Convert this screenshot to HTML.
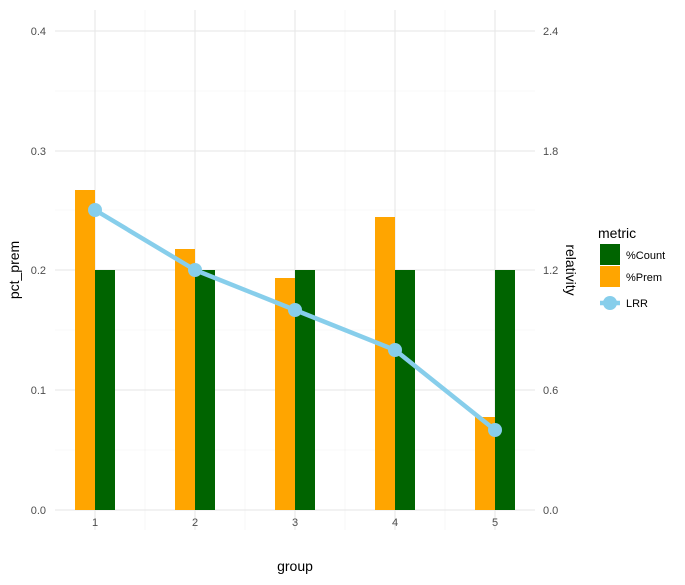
<!DOCTYPE html>
<html><head><meta charset="utf-8"><style>
body{margin:0;background:#fff;}
text{font-family:"Liberation Sans",sans-serif;}
</style></head><body>
<svg width="685" height="580" xmlns="http://www.w3.org/2000/svg">
<rect width="685" height="580" fill="#fff"/>
<g stroke="#f2f2f2" stroke-width="0.6">
<line x1="55" x2="535" y1="450" y2="450"/><line x1="55" x2="535" y1="330" y2="330"/>
<line x1="55" x2="535" y1="210" y2="210"/><line x1="55" x2="535" y1="91" y2="91"/>
<line x1="145" x2="145" y1="10" y2="530"/><line x1="245" x2="245" y1="10" y2="530"/>
<line x1="345" x2="345" y1="10" y2="530"/><line x1="445" x2="445" y1="10" y2="530"/>
</g>
<g stroke="#e6e6e6" stroke-width="1.1">
<line x1="55" x2="535" y1="510" y2="510"/><line x1="55" x2="535" y1="390" y2="390"/>
<line x1="55" x2="535" y1="270" y2="270"/><line x1="55" x2="535" y1="151" y2="151"/>
<line x1="55" x2="535" y1="31" y2="31"/>
<line x1="95" x2="95" y1="10" y2="530"/><line x1="195" x2="195" y1="10" y2="530"/>
<line x1="295" x2="295" y1="10" y2="530"/><line x1="395" x2="395" y1="10" y2="530"/>
<line x1="495" x2="495" y1="10" y2="530"/>
</g>
<g fill="#ffa500">
<rect x="75" y="190" width="20" height="320"/><rect x="175" y="249" width="20" height="261"/>
<rect x="275" y="278" width="20" height="232"/><rect x="375" y="217" width="20" height="293"/>
<rect x="475" y="417" width="20" height="93"/>
</g>
<g fill="#006400">
<rect x="95" y="270" width="20" height="240"/><rect x="195" y="270" width="20" height="240"/>
<rect x="295" y="270" width="20" height="240"/><rect x="395" y="270" width="20" height="240"/>
<rect x="495" y="270" width="20" height="240"/>
</g>
<polyline points="95,210 195,270 295,310 395,350 495,430" fill="none" stroke="#87ceeb" stroke-width="4.5" stroke-linejoin="round"/>
<g fill="#87ceeb">
<circle cx="95" cy="210" r="7"/><circle cx="195" cy="270" r="7"/><circle cx="295" cy="310" r="7"/>
<circle cx="395" cy="350" r="7"/><circle cx="495" cy="430" r="7"/>
</g>
<g font-size="11" fill="#4d4d4d" text-anchor="end">
<text x="46" y="514">0.0</text><text x="46" y="394">0.1</text><text x="46" y="274">0.2</text>
<text x="46" y="155">0.3</text><text x="46" y="35">0.4</text>
</g>
<g font-size="11" fill="#4d4d4d">
<text x="543" y="514">0.0</text><text x="543" y="394">0.6</text><text x="543" y="274">1.2</text>
<text x="543" y="155">1.8</text><text x="543" y="35">2.4</text>
</g>
<g font-size="11" fill="#4d4d4d" text-anchor="middle">
<text x="95" y="526">1</text><text x="195" y="526">2</text><text x="295" y="526">3</text>
<text x="395" y="526">4</text><text x="495" y="526">5</text>
</g>
<text x="295" y="571" font-size="14" text-anchor="middle" fill="#000">group</text>
<text transform="translate(19,270) rotate(-90)" font-size="14" text-anchor="middle" fill="#000">pct_prem</text>
<text transform="translate(566,270) rotate(90)" font-size="14" text-anchor="middle" fill="#000">relativity</text>
<text x="598" y="238" font-size="14" fill="#000">metric</text>
<rect x="600" y="244" width="20" height="21" fill="#006400"/>
<rect x="600" y="266" width="20" height="21" fill="#ffa500"/>
<line x1="600" x2="620" y1="303" y2="303" stroke="#87ceeb" stroke-width="4.5"/>
<circle cx="610" cy="303" r="7" fill="#87ceeb"/>
<g font-size="11" fill="#000">
<text x="626" y="259">%Count</text><text x="626" y="281">%Prem</text><text x="626" y="307">LRR</text>
</g>
</svg>
</body></html>
